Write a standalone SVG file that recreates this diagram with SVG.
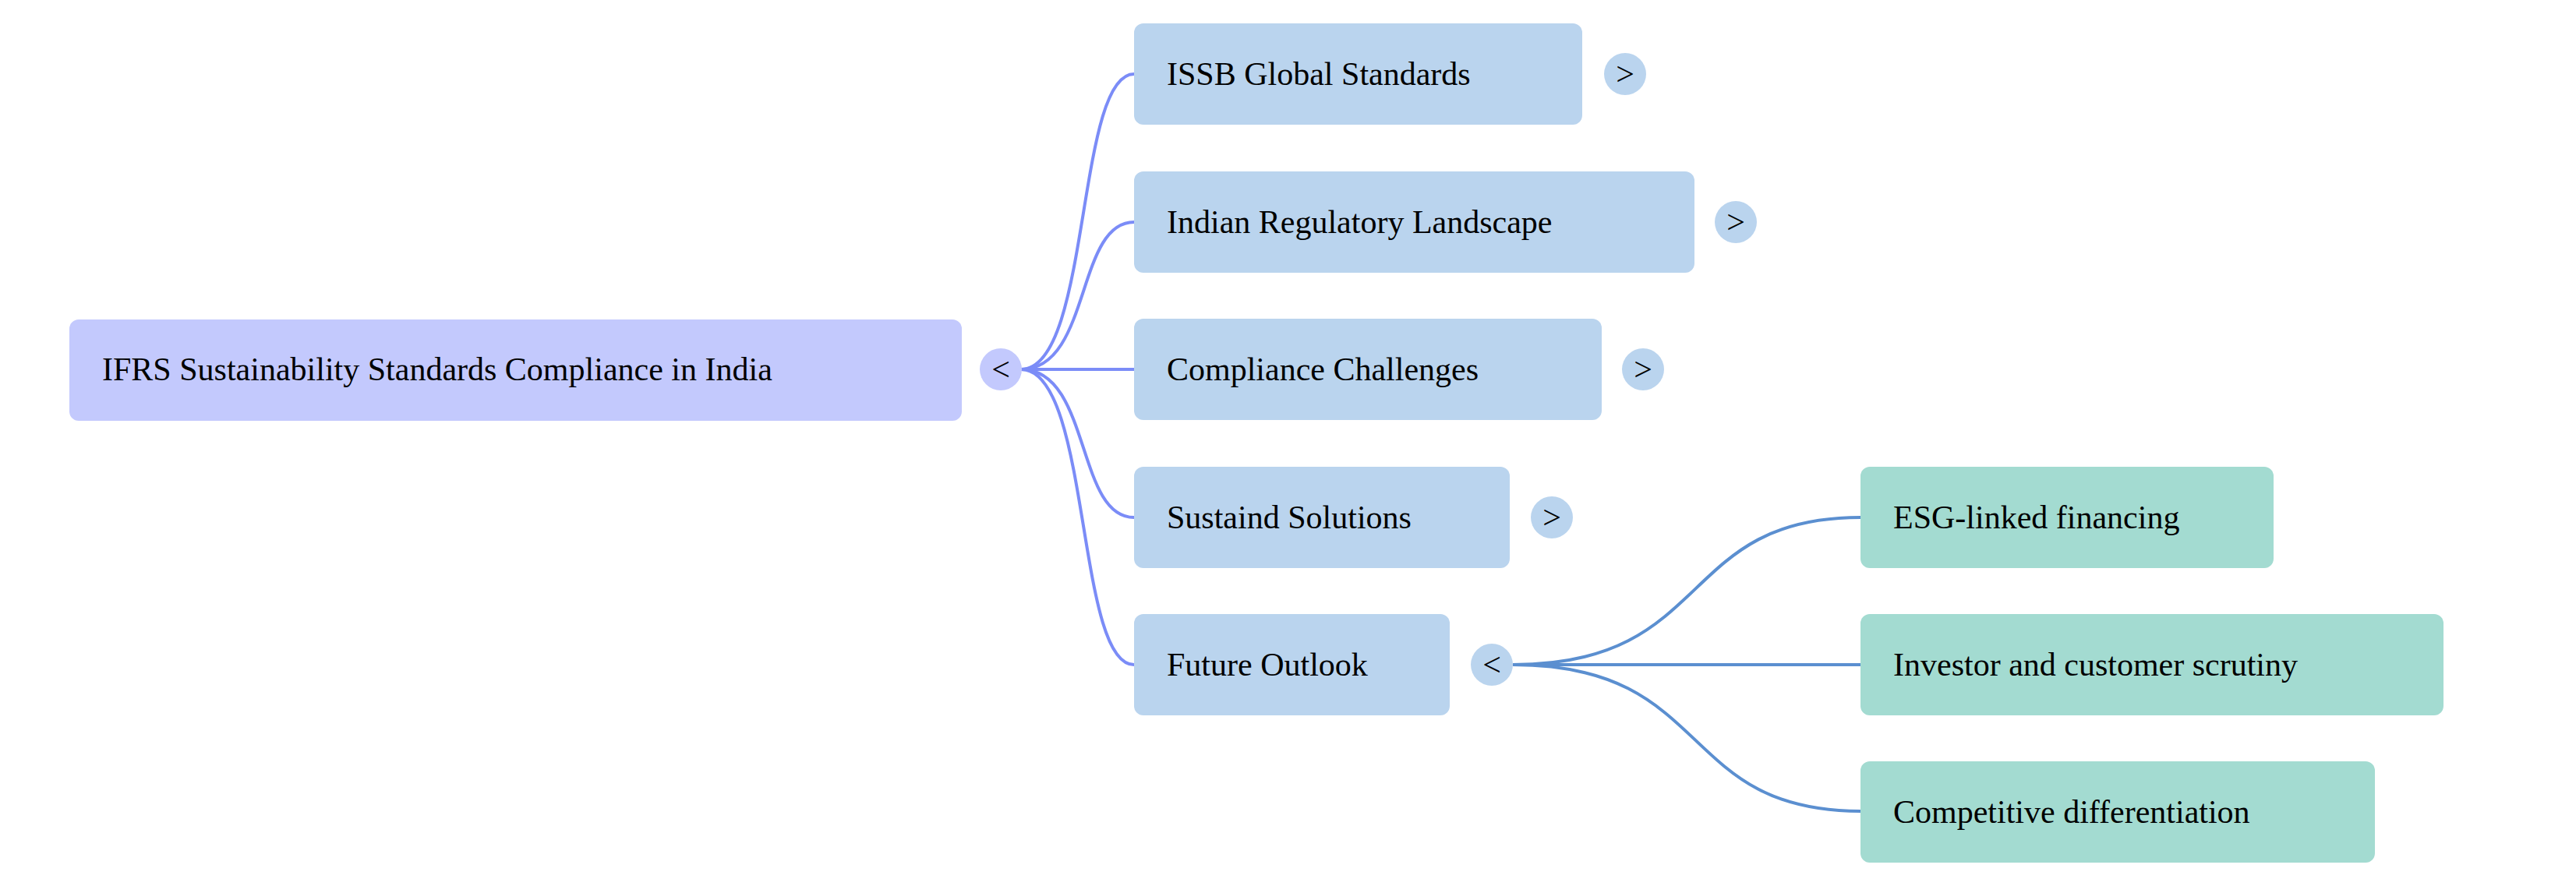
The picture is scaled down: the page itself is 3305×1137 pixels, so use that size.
<svg xmlns="http://www.w3.org/2000/svg" width="3305" height="1137" viewBox="0 0 3305 1137">
<style>
text{font-family:"Liberation Serif","Times New Roman",serif;font-size:42px;fill:#000}
.root{fill:#c3c9fd}
.l1{fill:#bad4ee}
.l2{fill:#a3dbd1}
.c1{fill:none;stroke:#7b8cf7;stroke-width:4}
.c2{fill:none;stroke:#5b8fd0;stroke-width:4}
.tg{text-anchor:middle}
</style>
<rect width="3305" height="1137" fill="#fff"/>
<g id="connectors">
<path class="c1" d="M1310 474 C1400 474 1380 95 1455 95"/>
<path class="c1" d="M1310 474 C1400 474 1380 285 1455 285"/>
<path class="c1" d="M1310 474 L1455 474"/>
<path class="c1" d="M1310 474 C1400 474 1380 664 1455 664"/>
<path class="c1" d="M1310 474 C1400 474 1380 853 1455 853"/>
<path class="c2" d="M1941 853 C2200 853 2150 664 2387 664"/>
<path class="c2" d="M1941 853 L2387 853"/>
<path class="c2" d="M1941 853 C2200 853 2150 1041 2387 1041"/>
</g>
<g id="root"><rect class="root" x="89" y="410" width="1145" height="130" rx="12"/><text x="131" y="488">IFRS Sustainability Standards Compliance in India</text><circle class="root" cx="1284" cy="474" r="27"/><text class="tg" x="1284" y="488">&lt;</text></g>
<g id="issb"><rect class="l1" x="1455" y="30" width="575" height="130" rx="12"/><text x="1497" y="109">ISSB Global Standards</text><circle class="l1" cx="2085" cy="95" r="27"/><text class="tg" x="2085" y="109">&gt;</text></g>
<g id="indian"><rect class="l1" x="1455" y="220" width="719" height="130" rx="12"/><text x="1497" y="299">Indian Regulatory Landscape</text><circle class="l1" cx="2227" cy="285" r="27"/><text class="tg" x="2227" y="299">&gt;</text></g>
<g id="challenges"><rect class="l1" x="1455" y="409" width="600" height="130" rx="12"/><text x="1497" y="488">Compliance Challenges</text><circle class="l1" cx="2108" cy="474" r="27"/><text class="tg" x="2108" y="488">&gt;</text></g>
<g id="solutions"><rect class="l1" x="1455" y="599" width="482" height="130" rx="12"/><text x="1497" y="678">Sustaind Solutions</text><circle class="l1" cx="1991" cy="664" r="27"/><text class="tg" x="1991" y="678">&gt;</text></g>
<g id="future"><rect class="l1" x="1455" y="788" width="405" height="130" rx="12"/><text x="1497" y="867">Future Outlook</text><circle class="l1" cx="1914" cy="853" r="27"/><text class="tg" x="1914" y="867">&lt;</text></g>
<g id="esg"><rect class="l2" x="2387" y="599" width="530" height="130" rx="12"/><text x="2429" y="678">ESG-linked financing</text></g>
<g id="investor"><rect class="l2" x="2387" y="788" width="748" height="130" rx="12"/><text x="2429" y="867">Investor and customer scrutiny</text></g>
<g id="competitive"><rect class="l2" x="2387" y="977" width="660" height="130" rx="12"/><text x="2429" y="1056">Competitive differentiation</text></g>
</svg>
